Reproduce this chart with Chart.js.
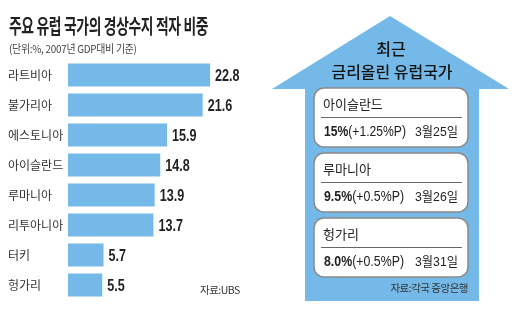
<!DOCTYPE html>
<html>
<head>
<meta charset="utf-8">
<script src="https://cdn.jsdelivr.net/npm/chart.js@4"></script>
<style>
  body { margin: 0; background: #fff; }
  #wrap { position: relative; width: 514px; height: 324px; overflow: hidden; font-family: "Noto Sans CJK KR", sans-serif; }
  #chart { position: absolute; left: 0; top: 0; }
  .txt { position: absolute; white-space: nowrap; color: #222; }
  #title { left: 9px; top: 12px; font-size: 20px; font-weight: 700; line-height: 28px; transform: scaleX(0.69); transform-origin: left center; letter-spacing: -0.5px; }
  #sub { left: 9px; top: 40px; font-size: 11px; line-height: 16px; color: #444; transform: scaleX(0.9); transform-origin: left center; letter-spacing: -0.3px; }
  #src1 { left: 200px; top: 283px; font-size: 10.5px; line-height: 14px; color: #333; letter-spacing: -0.5px; }
  #panel { position: absolute; left: 0; top: 0; }
</style>
</head>
<body>
<div id="wrap">
  <canvas id="chart" width="514" height="324"></canvas>
  <div class="txt" id="title">주요 유럽 국가의 경상수지 적자 비중</div>
  <div class="txt" id="sub">(단위:%, 2007년 GDP대비 기준)</div>
  <div class="txt" id="src1">자료:UBS</div>
  <svg id="panel" width="514" height="324"></svg>
</div>
<script>
// 경상수지 적자 비중 (%)
const countries = ['라트비아', '불가리아', '에스토니아', '아이슬란드', '루마니아', '리투아니아', '터키', '헝가리'];
const deficits = [22.8, 21.6, 15.9, 14.8, 13.9, 13.7, 5.7, 5.5];

// 최근 금리올린 유럽국가
const rateCountries = ['아이슬란드', '루마니아', '헝가리'];
const rates = ['15%', '9.5%', '8.0%'];
const rateChanges = ['(+1.25%P)', '(+0.5%P)', '(+0.5%P)'];
const rateDates = ['3월25일', '3월26일', '3월31일'];

const barColor = '#74b9e7';

// numbers at bar ends, squeezed like the newspaper font
const valueLabels = {
  id: 'valueLabels',
  afterDatasetsDraw(chart) {
    const ctx = chart.ctx;
    const meta = chart.getDatasetMeta(0);
    ctx.save();
    ctx.fillStyle = '#222';
    ctx.font = 'bold 17px "Liberation Sans", sans-serif';
    ctx.textBaseline = 'middle';
    meta.data.forEach((bar, i) => {
      ctx.save();
      ctx.translate(bar.x + 5, bar.y + 1);
      ctx.scale(0.74, 1);
      ctx.fillText(deficits[i].toFixed(1), 0, 0);
      ctx.restore();
    });
    ctx.restore();
  }
};

new Chart(document.getElementById('chart'), {
  type: 'bar',
  data: {
    labels: countries,
    datasets: [{
      data: deficits,
      backgroundColor: barColor,
      barPercentage: 0.77,
      categoryPercentage: 1
    }]
  },
  options: {
    indexAxis: 'y',
    responsive: false,
    animation: false,
    layout: { padding: { left: 8, top: 60, bottom: 24, right: 259 } },
    plugins: { legend: { display: false }, tooltip: { enabled: false } },
    scales: {
      x: { display: false, min: 0, max: 30 },
      y: {
        grid: { display: false },
        border: { display: false },
        ticks: {
          crossAlign: 'far',
          padding: 0,
          color: '#333',
          font: { size: 12, family: '"Noto Sans CJK KR", sans-serif' }
        },
        afterFit(scale) { scale.width = 60; }
      }
    }
  },
  plugins: [valueLabels]
});

// right panel: arrow with boxes
const NS = 'http://www.w3.org/2000/svg';
const svg = document.getElementById('panel');
function el(tag, attrs, text, parent) {
  const e = document.createElementNS(NS, tag);
  for (const k in attrs) e.setAttribute(k, attrs[k]);
  if (text) e.textContent = text;
  (parent || svg).appendChild(e);
  return e;
}
el('polygon', { points: '390,16 509,89 479,89 479,301 305,301 305,89 272,89', fill: barColor });
el('text', { x: 391, y: 55, 'text-anchor': 'middle', 'font-size': 16, 'font-weight': 500,
  'font-family': '"Noto Sans CJK KR"', fill: '#111' }, '최근');
el('text', { x: 392, y: 78, 'text-anchor': 'middle', 'font-size': 15.5, 'font-weight': 500,
  'font-family': '"Noto Sans CJK KR"', fill: '#111', textLength: 121, lengthAdjust: 'spacingAndGlyphs' }, '금리올린 유럽국가');

const valueWidths = [82, 80, 80];
rateCountries.forEach((name, i) => {
  const top = 88 + i * 65;
  el('rect', { x: 314, y: top, width: 154, height: 59, rx: 10, ry: 10, fill: '#fff', stroke: '#8a8a8a', 'stroke-width': 1.5 });
  el('text', { x: 323, y: top + 21, 'font-size': 13, 'font-family': '"Noto Sans CJK KR"', fill: '#222' }, name);
  el('line', { x1: 321, x2: 462, y1: top + 29.5, y2: top + 29.5, stroke: '#666', 'stroke-width': 1 });
  const t = el('text', { x: 324, y: top + 48, 'font-size': 14, 'font-family': '"Liberation Sans", "Noto Sans CJK KR"', fill: '#222',
    textLength: valueWidths[i], lengthAdjust: 'spacingAndGlyphs' });
  el('tspan', { 'font-weight': 700 }, rates[i], t);
  el('tspan', {}, rateChanges[i], t);
  el('text', { x: 415, y: top + 48, 'font-size': 13, 'font-family': '"Liberation Sans", "Noto Sans CJK KR"', fill: '#222',
    textLength: 43, lengthAdjust: 'spacingAndGlyphs' }, rateDates[i]);
});
el('text', { x: 468, y: 292, 'text-anchor': 'end', 'font-size': 10.5, 'font-family': '"Noto Sans CJK KR"',
  fill: '#333', 'letter-spacing': -0.5 }, '자료:각국 중앙은행');
</script>
</body>
</html>
